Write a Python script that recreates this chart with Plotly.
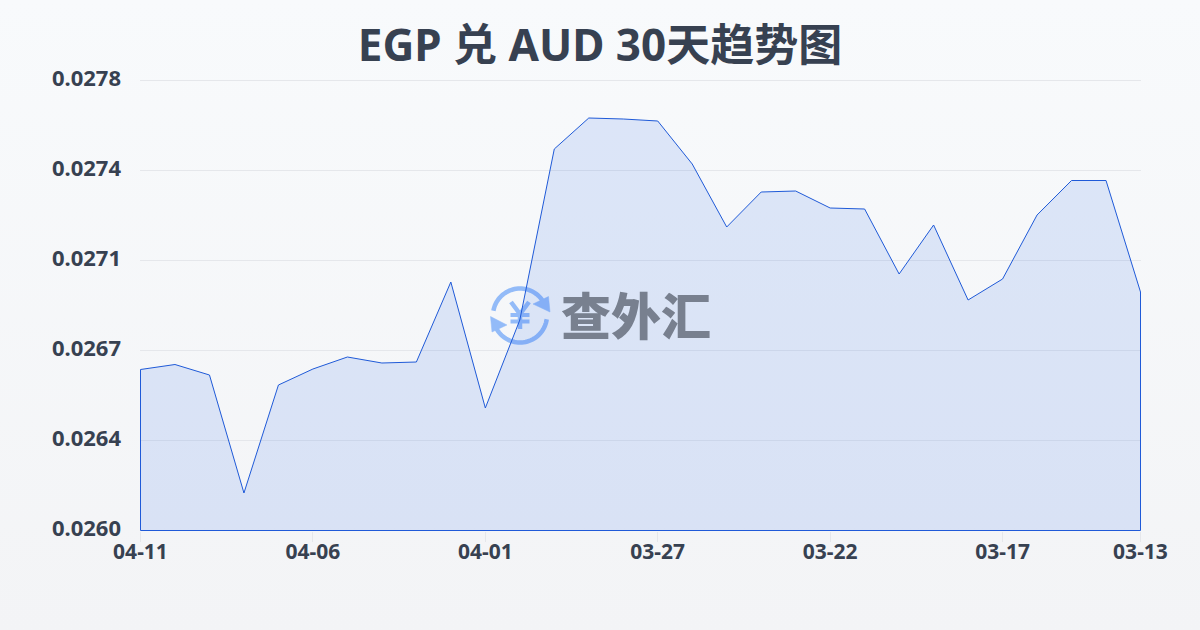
import numpy as np
import plotly.graph_objects as go

dates = ["04-11","04-10","04-09","04-08","04-07","04-06","04-05","04-04","04-03","04-02",
         "04-01","03-31","03-30","03-29","03-28","03-27","03-26","03-25","03-24","03-23",
         "03-22","03-21","03-20","03-19","03-18","03-17","03-16","03-15","03-14","03-13"]
rates = [0.026644,0.026664,0.026622,0.026150,0.026582,0.026646,0.026694,0.026670,0.026674,0.026994,
         0.026490,0.026842,0.027526,0.027650,0.027646,0.027638,0.027466,0.027214,0.027354,0.027358,
         0.027290,0.027286,0.027026,0.027222,0.026922,0.027006,0.027262,0.027400,0.027400,0.026954]
x_tick_labels = ["04-11","04-06","04-01","03-27","03-22","03-17","03-13"]
y_min, y_max, y_step = 0.0260, 0.0278, 0.00036
title_text = "EGP 兑 AUD 30天趋势图"
logo_text = "查外汇"

FONT = "Noto Sans, Noto Sans CJK SC, sans-serif"
LOGO_FONT = "Noto Sans CJK SC, sans-serif"
INK = "#374151"
BLUE = "#1f5ad8"
ICON = "#93bbf8"

L, T, W, H = 140, 78, 1001, 453
half_px_x = 0.5 * (len(dates) - 1) / 1000
px_y = (y_max - y_min) / 450


def px(x, y):
    return (x - L) / W, (T + H - y) / H


def poly(points, close=False):
    parts = []
    for i, (x, y) in enumerate(points):
        a, b = px(x, y)
        parts.append(("M" if i == 0 else "L") + f"{a:.5f},{b:.5f}")
    return " ".join(parts) + (" Z" if close else "")


def arc(cx, cy, r, a0, a1, n=40):
    t = np.radians(np.linspace(a0, a1, n))
    return list(zip(cx + r * np.cos(t), cy - r * np.sin(t)))


cx, cy, R = 520, 315.5, 27
line_shape = lambda d, w: dict(type="path", xref="paper", yref="paper", path=d, layer="below",
                               line=dict(color=ICON, width=w), fillcolor="rgba(0,0,0,0)")
fill_shape = lambda d: dict(type="path", xref="paper", yref="paper", path=d, layer="below",
                            line=dict(color=ICON, width=0.5), fillcolor=ICON)
shapes = [
    line_shape(poly(arc(cx, cy, R, 170, 22)), 4.5),
    line_shape(poly(arc(cx, cy, R, -8, -160)), 4.5),
    fill_shape(poly([(550, 312), (548.5, 296.5), (533, 304)], True)),
    fill_shape(poly([(490.5, 316.5), (492, 332), (507, 325)], True)),
    line_shape(poly([(511, 302), (520, 314), (529, 302)]), 4.5),
    line_shape(poly([(520, 314), (520, 329)]), 4.5),
    line_shape(poly([(510.5, 315), (529.5, 315)]), 4),
    line_shape(poly([(510.5, 321.5), (529.5, 321.5)]), 4),
]

fig = go.Figure()
fig.add_trace(go.Scatter(
    x=dates + [dates[-1], dates[0], dates[0]],
    y=rates + [y_min, y_min, rates[0]],
    mode="lines",
    fill="toself",
    fillcolor="rgba(37,99,235,0.13)",
    line=dict(color=BLUE, width=1),
    cliponaxis=False,
    hoverinfo="skip",
    showlegend=False,
))

fig.update_layout(
    width=1200, height=630,
    margin=dict(l=L, r=1200 - L - W, t=T, b=630 - T - H, autoexpand=False),
    paper_bgcolor="rgba(0,0,0,0)",
    plot_bgcolor="rgba(0,0,0,0)",
    font=dict(family=FONT, color=INK),
    title=dict(text=title_text, x=0.5, xanchor="center", xref="container",
               y=0.928, yanchor="middle",
               font=dict(family=FONT, size=44, color=INK, weight=700)),
    shapes=shapes,
    annotations=[dict(text=logo_text, xref="paper", yref="paper",
                      x=px(636, 0)[0], y=px(0, 313)[1], xanchor="center", yanchor="middle",
                      showarrow=False,
                      font=dict(family=LOGO_FONT, size=50, color="#78808f", weight=900))],
    xaxis=dict(type="category", categoryorder="array", categoryarray=dates,
               range=[-half_px_x, len(dates) - 1 + half_px_x], tickmode="array", tickvals=x_tick_labels,
               ticks="outside", ticklen=10, tickwidth=1, tickcolor="#e5e7eb",
               ticklabelstandoff=-8,
               showgrid=False, zeroline=False, showline=False,
               tickfont=dict(family=FONT, size=21, color=INK, weight=700)),
    yaxis=dict(range=[y_min - 0.5 * px_y, y_max + 2.5 * px_y], tick0=y_min, dtick=y_step, tickformat=".4f",
               gridcolor="#e5e7eb", gridwidth=1, zeroline=False, showline=False,
               ticks="", ticklabelstandoff=18, ticklabelshift=-2,
               tickfont=dict(family=FONT, size=22, color=INK, weight=700)),
)

post = """
document.documentElement.style.margin='0';
document.body.style.margin='0';
document.body.style.height='630px';
document.body.style.background='linear-gradient(180deg,#f8fafc 0%,#f3f4f6 100%)';
"""
fig.write_html("out.html", post_script=post, config={"displayModeBar": False})
